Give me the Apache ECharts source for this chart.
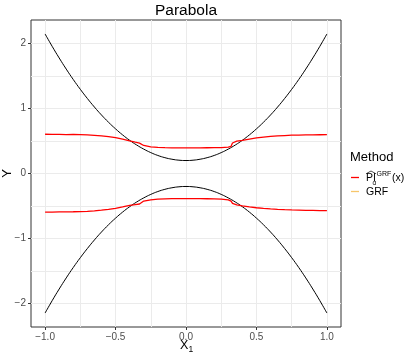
<!DOCTYPE html>
<html>
<head>
<meta charset="utf-8">
<title>Parabola</title>
<style>
html,body{margin:0;padding:0;background:#fff;}
#main{width:412px;height:359px;}
</style>
<script src="https://cdn.jsdelivr.net/npm/echarts@6/dist/echarts.min.js"></script>
</head>
<body>
<div id="main"></div>
<script>
// parabola curves, read every 0.05
var curveX = [-1,-0.95,-0.9,-0.85,-0.8,-0.75,-0.7,-0.65,-0.6,-0.55,-0.5,-0.45,-0.4,-0.35,-0.3,-0.25,-0.2,-0.15,-0.1,-0.05,0,
              0.05,0.1,0.15,0.2,0.25,0.3,0.35,0.4,0.45,0.5,0.55,0.6,0.65,0.7,0.75,0.8,0.85,0.9,0.95,1];
var curveUpper = [2.150,1.960,1.780,1.609,1.448,1.297,1.156,1.024,0.902,0.790,0.688,0.595,0.512,0.439,0.376,0.322,0.278,0.244,0.220,0.205,0.200,
                  0.205,0.220,0.244,0.278,0.322,0.376,0.439,0.512,0.595,0.688,0.790,0.902,1.024,1.156,1.297,1.448,1.609,1.780,1.960,2.150];
var curveLower = [-2.150,-1.960,-1.780,-1.609,-1.448,-1.297,-1.156,-1.024,-0.902,-0.790,-0.688,-0.595,-0.512,-0.439,-0.376,-0.322,-0.278,-0.244,-0.220,-0.205,-0.200,
                  -0.205,-0.220,-0.244,-0.278,-0.322,-0.376,-0.439,-0.512,-0.595,-0.688,-0.790,-0.902,-1.024,-1.156,-1.297,-1.448,-1.609,-1.780,-1.960,-2.150];

// prediction interval bounds (PI GRF)
var piX = [-1,-0.95,-0.9,-0.85,-0.8,-0.75,-0.7,-0.65,-0.6,-0.55,-0.5,-0.45,-0.4,-0.36,-0.33,-0.32,-0.3,-0.25,-0.2,-0.15,-0.1,-0.05,0,
           0.05,0.1,0.15,0.2,0.25,0.3,0.32,0.33,0.34,0.36,0.4,0.45,0.5,0.55,0.6,0.65,0.7,0.75,0.8,0.85,0.9,0.95,1];
var piUpper = [0.605,0.603,0.604,0.600,0.601,0.598,0.594,0.588,0.580,0.567,0.552,0.530,0.502,0.482,0.468,0.452,0.432,0.410,0.402,0.398,0.396,0.395,0.395,
               0.395,0.396,0.397,0.398,0.400,0.405,0.418,0.470,0.490,0.498,0.510,0.530,0.548,0.562,0.572,0.580,0.585,0.590,0.592,0.594,0.596,0.597,0.598];
var piLower = [-0.595,-0.594,-0.592,-0.590,-0.589,-0.586,-0.582,-0.575,-0.565,-0.552,-0.536,-0.515,-0.492,-0.478,-0.470,-0.445,-0.425,-0.405,-0.395,-0.390,-0.388,-0.387,-0.387,
               -0.387,-0.388,-0.389,-0.391,-0.395,-0.405,-0.425,-0.460,-0.475,-0.482,-0.500,-0.515,-0.528,-0.538,-0.546,-0.552,-0.557,-0.561,-0.564,-0.567,-0.569,-0.571,-0.573];

var xTicks = [-1, -0.5, 0, 0.5, 1];
var xGrid = [-1, -0.75, -0.5, -0.25, 0, 0.25, 0.5, 0.75, 1];
var yTicks = [-2, -1, 0, 1, 2];
var yGrid = [-2, -1.5, -1, -0.5, 0, 0.5, 1, 1.5, 2];

function pairs(xv, yv) {
  var out = [];
  for (var i = 0; i < xv.length; i++) out.push([xv[i], yv[i]]);
  return out;
}
function minus(s) { return String(s).replace('-', '\u2212'); }

var chart = echarts.init(document.getElementById('main'), null, {renderer: 'canvas'});
var FONT = 'Liberation Sans, Arial, sans-serif';
var labelStyle = {color: '#4D4D4D', fontSize: 10, fontFamily: FONT};

var option = {
  animation: false,
  grid: {left: 31, top: 20, width: 310, height: 307, show: true, borderColor: '#333333', borderWidth: 1, backgroundColor: '#fff',
         containLabel: false, outerBoundsMode: 'none'},
  xAxis: [{
    type: 'value', min: -1.1, max: 1.1,
    axisLine: {show: false, onZero: false},
    axisTick: {show: false, customValues: xGrid},
    splitLine: {show: true, lineStyle: {color: '#EBEBEB', width: 1}},
    axisLabel: Object.assign({customValues: xTicks, margin: 5, formatter: function (v) { return minus(v.toFixed(1)); }}, labelStyle)
  }, {
    type: 'value', min: -1.1, max: 1.1, position: 'bottom',
    axisLine: {show: false, onZero: false},
    axisTick: {show: true, customValues: xTicks, length: 3, lineStyle: {color: '#333333'}},
    splitLine: {show: false},
    axisLabel: {show: false}
  }],
  yAxis: [{
    type: 'value', min: -2.365, max: 2.365,
    axisLine: {show: false, onZero: false},
    axisTick: {show: false, customValues: yGrid},
    splitLine: {show: true, lineStyle: {color: '#EBEBEB', width: 1}},
    axisLabel: Object.assign({customValues: yTicks, margin: 5, formatter: function (v) { return minus(v); }}, labelStyle)
  }, {
    type: 'value', min: -2.365, max: 2.365, position: 'left',
    axisLine: {show: false, onZero: false},
    axisTick: {show: true, customValues: yTicks, length: 3, lineStyle: {color: '#333333'}},
    splitLine: {show: false},
    axisLabel: {show: false}
  }],
  series: [
    {type: 'line', data: pairs(curveX, curveUpper), smooth: true, showSymbol: false, lineStyle: {color: '#000', width: 1}},
    {type: 'line', data: pairs(curveX, curveLower), smooth: true, showSymbol: false, lineStyle: {color: '#000', width: 1}},
    {type: 'line', data: pairs(piX, piUpper), showSymbol: false, lineStyle: {color: '#FF0000', width: 1.3}},
    {type: 'line', data: pairs(piX, piLower), showSymbol: false, lineStyle: {color: '#FF0000', width: 1.3}}
  ],
  graphic: [
    {type: 'text', x: 186, y: 11, style: {text: 'Parabola', align: 'center', verticalAlign: 'middle', fontSize: 15.5, fontFamily: FONT, fill: '#000'}},
    {type: 'text', x: 180, y: 346, style: {text: 'X', align: 'left', verticalAlign: 'middle', fontSize: 12.5, fontFamily: FONT, fill: '#000'}},
    {type: 'text', x: 188.5, y: 350, style: {text: '1', align: 'left', verticalAlign: 'middle', fontSize: 8.5, fontFamily: FONT, fill: '#000'}},
    {type: 'text', x: 7.5, y: 173.5, rotation: Math.PI / 2, style: {text: 'Y', align: 'center', verticalAlign: 'middle', fontSize: 13, fontFamily: FONT, fill: '#000'}},
    // legend
    {type: 'text', x: 350, y: 157, style: {text: 'Method', align: 'left', verticalAlign: 'middle', fontSize: 13, fontFamily: FONT, fill: '#000'}},
    {type: 'line', shape: {x1: 351, y1: 177.5, x2: 359, y2: 177.5}, style: {stroke: '#FF0000', lineWidth: 1.3}},
    {type: 'text', x: 366, y: 178.5, style: {text: 'PI', align: 'left', verticalAlign: 'middle', fontSize: 10.5, fontFamily: FONT, fill: '#000'}},
    {type: 'polyline', shape: {points: [[366, 173.8], [371, 171], [376, 173.8]]}, style: {stroke: '#000', lineWidth: 0.7, fill: null}},
    {type: 'text', x: 376.5, y: 174, style: {text: 'GRF', align: 'left', verticalAlign: 'middle', fontSize: 7, fontFamily: FONT, fill: '#000'}},
    {type: 'text', x: 372.5, y: 183.5, style: {text: '\u03b1', align: 'left', verticalAlign: 'middle', fontSize: 6.5, fontFamily: FONT, fill: '#000'}},
    {type: 'text', x: 392, y: 178.5, style: {text: '(x)', align: 'left', verticalAlign: 'middle', fontSize: 10.5, fontFamily: FONT, fill: '#000'}},
    {type: 'line', shape: {x1: 351, y1: 191.5, x2: 359, y2: 191.5}, style: {stroke: '#F7C66B', lineWidth: 1.3}},
    {type: 'text', x: 366, y: 192, style: {text: 'GRF', align: 'left', verticalAlign: 'middle', fontSize: 10.5, fontFamily: FONT, fill: '#000'}}
  ]
};
chart.setOption(option);
</script>
</body>
</html>
